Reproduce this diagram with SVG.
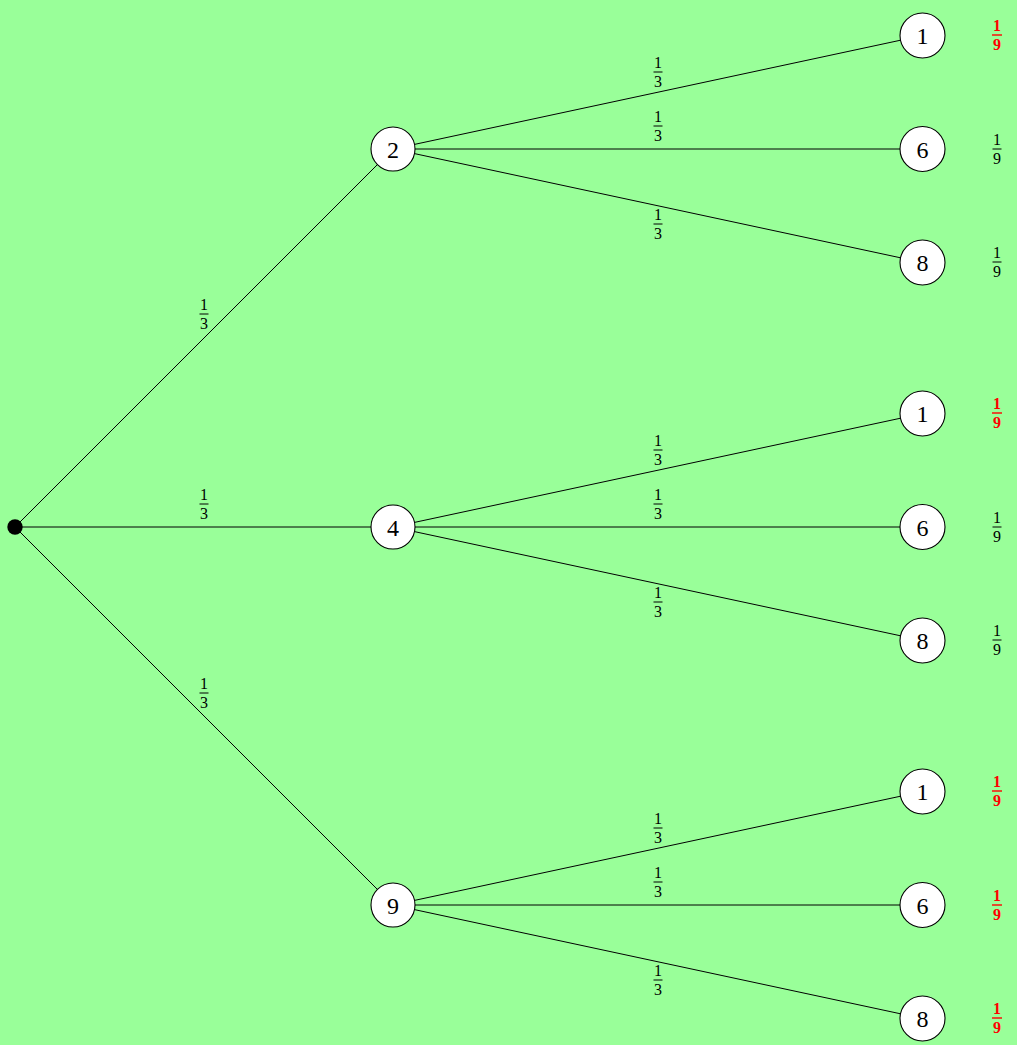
<svg xmlns="http://www.w3.org/2000/svg" width="1017" height="1045" viewBox="0 0 1017 1045">
<style>
.bg{fill:#99FF99}
.edge{stroke:#000;stroke-width:1;fill:none}
.node{fill:#fff;stroke:#000;stroke-width:1.1}
.nl{font-family:"Liberation Serif",serif;font-size:24px;text-anchor:middle;fill:#000}
.fr{font-family:"Liberation Serif",serif;font-size:16px;text-anchor:middle;fill:#000}
.bar{stroke:#000;stroke-width:1}
.frr{font-family:"Liberation Serif",serif;font-size:16px;text-anchor:middle;fill:#FF0000;font-weight:bold}
.barr{stroke:#FF0000;stroke-width:1.4}
</style>
<defs>
<g id="f13"><text class="fr" x="0" y="-4">1</text><line class="bar" x1="-4.5" y1="0" x2="4.5" y2="0"/><text class="fr" x="0" y="15">3</text></g>
<g id="f19"><text class="fr" x="0" y="-4">1</text><line class="bar" x1="-4.5" y1="0" x2="4.5" y2="0"/><text class="fr" x="0" y="15">9</text></g>
<g id="f19r"><text class="frr" x="0" y="-4">1</text><line class="barr" x1="-5" y1="0" x2="5" y2="0"/><text class="frr" x="0" y="15">9</text></g>
</defs>
<rect class="bg" x="0" y="0" width="1017" height="1045"/>
<g id="connectors">
<line class="edge" x1="15" y1="527" x2="393" y2="149"/>
<line class="edge" x1="15" y1="527" x2="393" y2="527"/>
<line class="edge" x1="15" y1="527" x2="393" y2="905"/>
<line class="edge" x1="393" y1="149" x2="922.5" y2="35.5"/>
<line class="edge" x1="393" y1="149" x2="922.5" y2="149"/>
<line class="edge" x1="393" y1="149" x2="922.5" y2="262.5"/>
<line class="edge" x1="393" y1="527" x2="922.5" y2="413.5"/>
<line class="edge" x1="393" y1="527" x2="922.5" y2="527"/>
<line class="edge" x1="393" y1="527" x2="922.5" y2="640.5"/>
<line class="edge" x1="393" y1="905" x2="922.5" y2="791.5"/>
<line class="edge" x1="393" y1="905" x2="922.5" y2="905"/>
<line class="edge" x1="393" y1="905" x2="922.5" y2="1018.5"/>
<use href="#f13" x="204" y="314"/>
<use href="#f13" x="204" y="504"/>
<use href="#f13" x="204" y="693"/>
<use href="#f13" x="658" y="72"/>
<use href="#f13" x="658" y="126"/>
<use href="#f13" x="658" y="224"/>
<use href="#f13" x="658" y="450"/>
<use href="#f13" x="658" y="504"/>
<use href="#f13" x="658" y="602"/>
<use href="#f13" x="658" y="828"/>
<use href="#f13" x="658" y="882"/>
<use href="#f13" x="658" y="980"/>
</g>
<g id="root"><circle cx="15" cy="527" r="7.7" fill="#000"/></g>
<g id="n2"><circle class="node" cx="393" cy="149" r="22"/><text class="nl" x="393" y="157.5">2</text></g>
<g id="n4"><circle class="node" cx="393" cy="527" r="22"/><text class="nl" x="393" y="535.5">4</text></g>
<g id="n9"><circle class="node" cx="393" cy="905" r="22"/><text class="nl" x="393" y="913.5">9</text></g>
<g id="n2-1"><circle class="node" cx="922.5" cy="35.5" r="22.5"/><text class="nl" x="922.5" y="44">1</text></g>
<g id="n2-6"><circle class="node" cx="922.5" cy="149" r="22.5"/><text class="nl" x="922.5" y="157.5">6</text></g>
<g id="n2-8"><circle class="node" cx="922.5" cy="262.5" r="22.5"/><text class="nl" x="922.5" y="271">8</text></g>
<g id="n4-1"><circle class="node" cx="922.5" cy="413.5" r="22.5"/><text class="nl" x="922.5" y="422">1</text></g>
<g id="n4-6"><circle class="node" cx="922.5" cy="527" r="22.5"/><text class="nl" x="922.5" y="535.5">6</text></g>
<g id="n4-8"><circle class="node" cx="922.5" cy="640.5" r="22.5"/><text class="nl" x="922.5" y="649">8</text></g>
<g id="n9-1"><circle class="node" cx="922.5" cy="791.5" r="22.5"/><text class="nl" x="922.5" y="800">1</text></g>
<g id="n9-6"><circle class="node" cx="922.5" cy="905" r="22.5"/><text class="nl" x="922.5" y="913.5">6</text></g>
<g id="n9-8"><circle class="node" cx="922.5" cy="1018.5" r="22.5"/><text class="nl" x="922.5" y="1027">8</text></g>
<g id="probs">
<use href="#f19r" x="997" y="35"/>
<use href="#f19" x="997" y="149"/>
<use href="#f19" x="997" y="262"/>
<use href="#f19r" x="997" y="413"/>
<use href="#f19" x="997" y="527"/>
<use href="#f19" x="997" y="640"/>
<use href="#f19r" x="997" y="791"/>
<use href="#f19r" x="997" y="905"/>
<use href="#f19r" x="997" y="1018"/>
</g>
</svg>
